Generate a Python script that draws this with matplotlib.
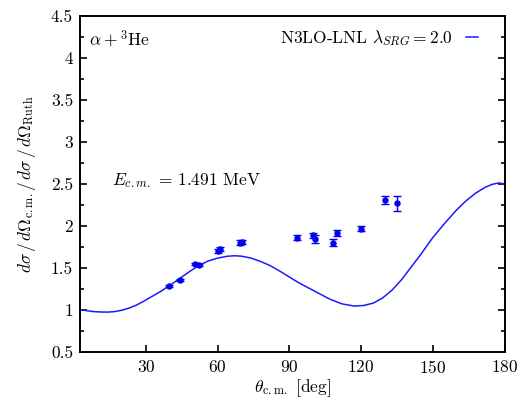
import matplotlib
matplotlib.use("Agg")
import matplotlib.pyplot as plt
from matplotlib.ticker import MultipleLocator

plt.rcParams["font.family"] = ["cmr10", "DejaVu Serif"]
plt.rcParams["mathtext.fontset"] = "cm"
plt.rcParams["axes.formatter.use_mathtext"] = True

# Calculated cross-section ratio (N3LO-LNL, lambda_SRG = 2.0)
theta_calc = [2.4, 5, 8, 11, 14, 17, 20, 23, 26, 29, 32, 36, 40, 44, 48, 52, 56,
              60, 64, 67, 70, 74, 78, 82, 86, 90, 94, 98, 102, 107, 112, 117,
              121, 125, 129, 133, 137, 141, 145, 150, 155, 160, 164, 168, 172,
              175, 177.5, 180]
ratio_calc = [1.00, 0.99, 0.978, 0.973, 0.972, 0.978, 0.995, 1.02, 1.055, 1.10,
              1.15, 1.215, 1.29, 1.37, 1.45, 1.525, 1.58, 1.615, 1.637, 1.643,
              1.638, 1.615, 1.575, 1.525, 1.46, 1.39, 1.32, 1.26, 1.20, 1.125,
              1.07, 1.044, 1.05, 1.078, 1.14, 1.235, 1.36, 1.51, 1.66, 1.86,
              2.03, 2.19, 2.30, 2.39, 2.46, 2.495, 2.51, 2.50]

# Measured data
theta_exp = [39.7, 44.1, 50.4, 52.3, 60.3, 61.0, 69.3, 70.0, 93.3, 100.0,
             100.7, 108.2, 110.1, 119.9, 130.1, 135.0]
ratio_exp = [1.285, 1.355, 1.545, 1.535, 1.70, 1.72, 1.80, 1.81, 1.86, 1.885,
             1.84, 1.80, 1.915, 1.965, 2.305, 2.27]
err_exp = [0.015, 0.015, 0.015, 0.015, 0.025, 0.025, 0.025, 0.025, 0.035, 0.035,
           0.045, 0.045, 0.035, 0.03, 0.045, 0.09]

x_ticks = [30, 60, 90, 120, 150, 180]
y_ticks = [0.5, 1, 1.5, 2, 2.5, 3, 3.5, 4, 4.5]
blue = "#1a1aff"
fs = 12.5

fig = plt.figure(figsize=(5.2, 3.98), dpi=100)
ax = fig.add_axes([0.1538, 0.1163, 0.8164, 0.8437])

ax.plot(theta_calc, ratio_calc, color=blue, lw=1.1,
        label=r"N3LO-LNL $\lambda_{SRG} = 2.0$")
ax.errorbar(theta_exp, ratio_exp, yerr=err_exp, fmt="o", color="#0000ee",
            ms=3.6, capsize=2.8, elinewidth=1.0, capthick=1.0)

ax.set_xlim(2.4, 180)
ax.set_ylim(0.5, 4.5)
ax.set_xticks(x_ticks)
ax.set_yticks(y_ticks)
ax.set_yticklabels([f"{v:g}" for v in y_ticks])
ax.yaxis.set_minor_locator(MultipleLocator(0.25))

for s in ax.spines.values():
    s.set_linewidth(1.4)
ax.tick_params(which="both", direction="in", right=True, labelsize=fs,
               width=1.2)
ax.tick_params(which="major", length=5, pad=5)
ax.tick_params(which="minor", length=3)

ax.set_xlabel(r"$\theta_{\rm c.m.}$ [deg]", fontsize=fs, labelpad=1)
ax.set_ylabel(r"$d\sigma\,/\,d\Omega_{\rm c.m.}/\,d\sigma\,/\,d\Omega_{\rm Ruth}$",
              fontsize=fs, labelpad=9)

ax.text(0.022, 0.965, r"$\alpha + {}^{3}$He", transform=ax.transAxes,
        ha="left", va="top", fontsize=fs)
ax.text(0.25, 0.51, r"$E_{c.m.}\,=\,1.491$ MeV", transform=ax.transAxes,
        ha="center", va="center", fontsize=fs)

leg = ax.legend(loc="upper right", frameon=False, markerfirst=False,
                handlelength=0.7, handletextpad=0.8, fontsize=fs,
                borderaxespad=0.0, bbox_to_anchor=(0.955, 0.985))

fig.savefig("out.png", dpi=100)
